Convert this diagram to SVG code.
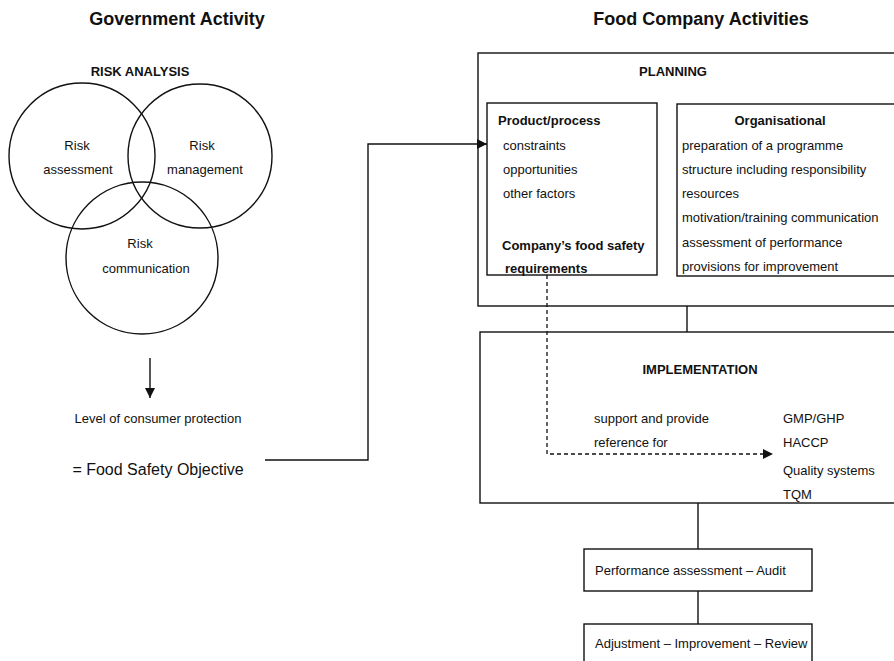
<svg xmlns="http://www.w3.org/2000/svg" width="894" height="661" viewBox="0 0 894 661">
<style>
text{font-family:"Liberation Sans",Arial,sans-serif;fill:#111;font-size:13px}
.b{font-weight:bold}
.h{font-size:18px;font-weight:bold}
.m{text-anchor:middle}
.s{fill:none;stroke:#111;stroke-width:1.4}
.d{fill:none;stroke:#111;stroke-width:1.3;stroke-dasharray:4 3}
</style>
<defs>
<marker id="ah" viewBox="0 0 10 10" refX="10" refY="5" markerWidth="10" markerHeight="10" markerUnits="userSpaceOnUse" orient="auto">
<path d="M0,0 L10,5 L0,10 z" fill="#111"/>
</marker>
</defs>
<rect width="894" height="661" fill="#fff"/>
<text class="h m" x="177" y="25">Government Activity</text>
<text class="h m" x="701" y="25">Food Company Activities</text>

<g id="risk-analysis">
<text class="b m" x="140" y="76">RISK ANALYSIS</text>
<g id="risk-assessment">
<circle class="s" cx="82" cy="156" r="73"/>
<text class="m" x="77" y="150">Risk</text>
<text class="m" x="78" y="174">assessment</text>
</g>
<g id="risk-management">
<circle class="s" cx="200" cy="156" r="72"/>
<text class="m" x="202" y="150">Risk</text>
<text class="m" x="205" y="174">management</text>
</g>
<g id="risk-communication">
<circle class="s" cx="142" cy="258" r="76"/>
<text class="m" x="140" y="248">Risk</text>
<text class="m" x="146" y="273">communication</text>
</g>
</g>

<g id="consumer-protection">
<text class="m" x="158" y="423">Level of consumer protection</text>
</g>
<g id="fso">
<text class="m" x="158" y="475" style="font-size:16px">= Food Safety Objective</text>
</g>

<g id="planning">
<rect class="s" x="478" y="53" width="430" height="253"/>
<text class="b m" x="673" y="76">PLANNING</text>
</g>
<g id="product-process">
<rect class="s" x="487" y="103" width="170" height="172"/>
<text class="b" x="498" y="125">Product/process</text>
<text x="503" y="150">constraints</text>
<text x="503" y="174">opportunities</text>
<text x="503" y="198">other factors</text>
<text class="b" x="502" y="250">Company’s food safety</text>
<text class="b" x="505" y="273">requirements</text>
</g>
<g id="organisational">
<rect class="s" x="677" y="104" width="230" height="172"/>
<text class="b m" x="780" y="125">Organisational</text>
<text x="682" y="150">preparation of a programme</text>
<text x="682" y="174">structure including responsibility</text>
<text x="682" y="198">resources</text>
<text x="682" y="222">motivation/training communication</text>
<text x="682" y="247">assessment of performance</text>
<text x="682" y="271">provisions for improvement</text>
</g>
<g id="implementation">
<rect class="s" x="480" y="332" width="430" height="171"/>
<text class="b m" x="700" y="374">IMPLEMENTATION</text>
<text x="594" y="423">support and provide</text>
<text x="594" y="447">reference for</text>
<text x="783" y="423">GMP/GHP</text>
<text x="783" y="447">HACCP</text>
<text x="783" y="475">Quality systems</text>
<text x="783" y="499">TQM</text>
</g>
<g id="performance">
<rect class="s" x="584" y="549" width="228" height="42"/>
<text x="595" y="575">Performance assessment – Audit</text>
</g>
<g id="adjustment">
<rect class="s" x="584" y="624" width="228" height="50"/>
<text x="595" y="648">Adjustment – Improvement – Review</text>
</g>

<g id="connectors">
<line class="s" x1="150" y1="358" x2="150" y2="398" marker-end="url(#ah)"/>
<polyline class="s" points="265,460 368,460 368,144 487,144" marker-end="url(#ah)"/>
<polyline class="d" points="547,275 547,454 773,454" marker-end="url(#ah)"/>
<line class="s" x1="687" y1="306" x2="687" y2="332"/>
<line class="s" x1="698" y1="503" x2="698" y2="549"/>
<line class="s" x1="698" y1="591" x2="698" y2="624"/>
</g>
</svg>
